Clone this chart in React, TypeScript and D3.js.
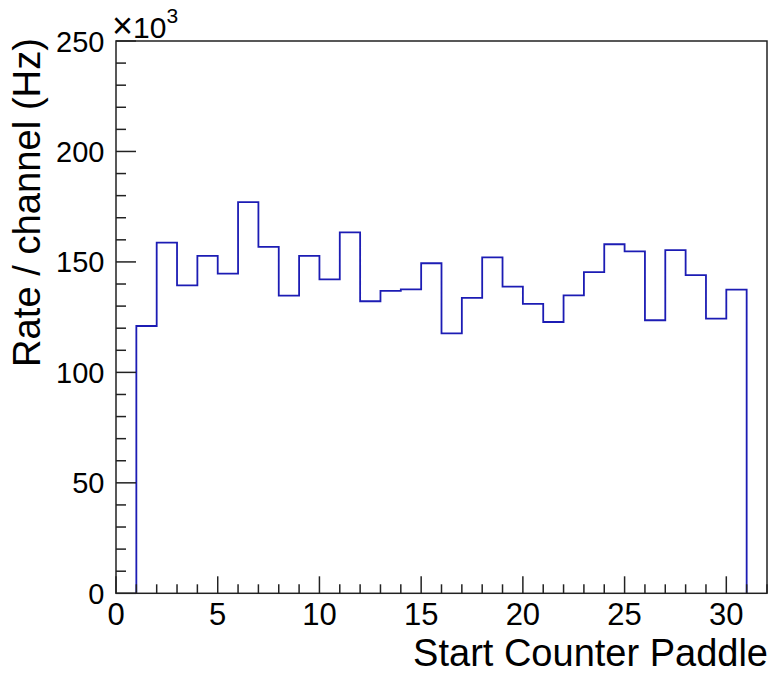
import React from "react";
import * as d3 from "d3";

const binLowEdges = [1,2,3,4,5,6,7,8,9,10,11,12,13,14,15,16,17,18,19,20,21,22,23,24,25,26,27,28,29,30];
const rates = [121.0,158.7,139.4,152.7,144.7,177.1,156.8,134.7,152.7,142.1,163.4,132.2,136.9,137.6,149.4,117.7,133.7,152.1,138.8,131.0,122.8,134.9,145.4,158.0,154.8,123.6,155.3,144.0,124.3,137.5];
const xMajorTicks = [0,5,10,15,20,25,30];
const yMajorTicks = [0,50,100,150,200,250];

const W = 774, H = 679;
const M = { left: 116, right: 767, top: 41, bottom: 593.3 };

export default function App() {
  const x = d3.scaleLinear().domain([0, 32]).range([M.left, M.right]);
  const y = d3.scaleLinear().domain([0, 250]).range([M.bottom, M.top]);

  const pts: [number, number][] = [];
  pts.push([binLowEdges[0], 0]);
  binLowEdges.forEach((lo, i) => {
    pts.push([lo, rates[i]]);
    pts.push([lo + 1, rates[i]]);
  });
  pts.push([binLowEdges[binLowEdges.length - 1] + 1, 0]);
  const line = d3.line<[number, number]>().x(d => x(d[0])).y(d => y(d[1]));

  const xMinor = d3.range(0, 33, 1).filter(v => v % 5 !== 0);
  const yMinor = d3.range(0, 251, 10).filter(v => v % 50 !== 0);
  const axisColor = "#222";
  const font = "'Liberation Sans', Arial, Helvetica, sans-serif";

  return (
    <svg width={W} height={H} style={{ position: "absolute", left: 0, top: 0, background: "#fff" }} fontFamily={font}>
      <rect x={0} y={0} width={W} height={H} fill="#fff" />
      <path d={line(pts) || ""} fill="none" stroke="#1c1cb4" strokeWidth={1.8} />
      {/* frame */}
      <rect x={M.left} y={M.top} width={M.right - M.left} height={M.bottom - M.top} fill="none" stroke={axisColor} strokeWidth={1.5} />
      {/* x ticks */}
      {xMajorTicks.map(t => (
        <g key={"xm" + t}>
          <line x1={x(t)} x2={x(t)} y1={M.bottom} y2={M.bottom - 17} stroke={axisColor} strokeWidth={1.5} />
          <text x={x(t)} y={624.5} fontSize={31} textAnchor="middle" fill="#000">{t}</text>
        </g>
      ))}
      {xMinor.map(t => (
        <line key={"xn" + t} x1={x(t)} x2={x(t)} y1={M.bottom} y2={M.bottom - 9} stroke={axisColor} strokeWidth={1.5} />
      ))}
      {/* y ticks */}
      {yMajorTicks.map(t => (
        <g key={"ym" + t}>
          <line x1={M.left} x2={M.left + 20} y1={y(t)} y2={y(t)} stroke={axisColor} strokeWidth={1.5} />
          <text x={104.5} y={y(t) + 10.5} fontSize={29} textAnchor="end" fill="#000">{t}</text>
        </g>
      ))}
      {yMinor.map(t => (
        <line key={"yn" + t} x1={M.left} x2={M.left + 10} y1={y(t)} y2={y(t)} stroke={axisColor} strokeWidth={1.5} />
      ))}
      {/* exponent */}
      <text x={112} y={38} fontSize={30} fill="#000">
        <tspan fontSize={36}>×</tspan>10<tspan dy={-15} fontSize={21}>3</tspan>
      </text>
      {/* axis titles */}
      <text x={768} y={666} fontSize={38} textAnchor="end" fill="#000">Start Counter Paddle</text>
      <text transform={`translate(40,38) rotate(-90)`} fontSize={38.2} textAnchor="end" fill="#000">Rate / channel (Hz)</text>
    </svg>
  );
}
